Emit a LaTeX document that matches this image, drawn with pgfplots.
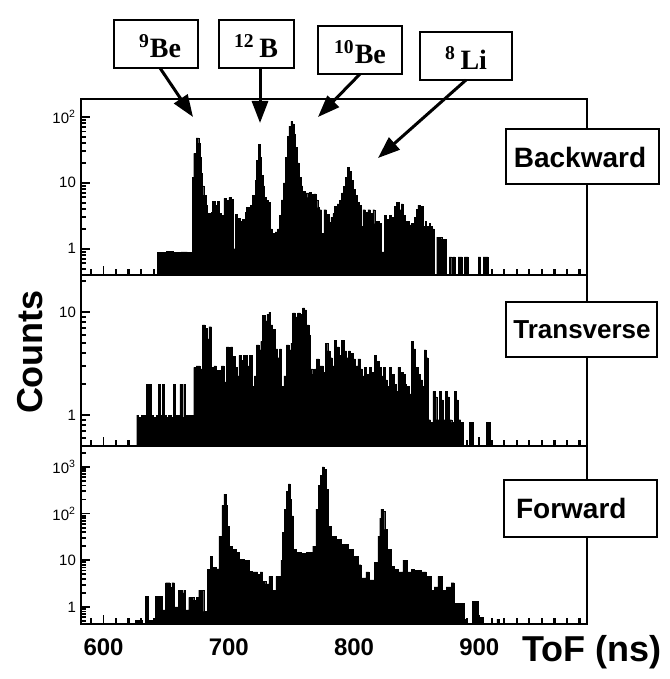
\documentclass[border=0pt]{standalone}
\usepackage{fontspec}
\setmainfont{Liberation Sans}
\newfontfamily\serifbf{Liberation Serif}
\usepackage{pgfplots}
\pgfplotsset{compat=1.18}
\usetikzlibrary{arrows.meta}

\newcommand{\minorticks}{%
  \pgfplotsinvokeforeach{590,610,620,630,640,650,660,670,680,690,710,720,730,740,750,760,770,780,790,810,820,830,840,850,860,870,880,890,910,920,930,940,950,960,970,980}{%
    \draw[line width=1.1pt] ({axis cs:##1,1} |- {rel axis cs:0,0}) -- ++(0pt,3.2pt);}%
}

\pgfplotsset{
  mypanel/.style={
    scale only axis, width=253pt, xmin=582, xmax=986,
    axis line style={line width=1pt},
    xtick={600,700,800,900},
    tick align=inside, xtick pos=bottom, ytick pos=left,
    major tick length=4.5pt, minor tick length=2.4pt,
    every tick/.style={black, line width=0.9pt},
    yticklabel style={font=\fontsize{7.5}{8}\selectfont, xshift=1pt},
    xticklabels={},
    anchor=north west,
    clip=false,
  },
}

\begin{document}
\begin{tikzpicture}
\useasboundingbox (0pt,0pt) rectangle (334.5pt,-339.5pt);

% ---------------- Backward ----------------
\begin{axis}[mypanel, ymode=log, log origin=infty, at={(40.5pt,-49.5pt)}, height=88pt, ymin=0.40, ymax=186,
  ytick={1,10,100}, yticklabels={1,10,10\textsuperscript{2}},
  minor ytick={0.5,0.6,0.7,0.8,0.9,2,3,4,5,6,7,8,9,20,30,40,50,60,70,80,90}]
\addplot[ybar interval, fill=black, draw=black, line width=0.2pt] coordinates {
(643,0.88)(650,0.92)(656,0.88)(662,0.9)(667,0.88)
(671,12)(672,28)(674,48)(676,40)(677,24)(678,14)(679,9)(680,6.5)(682,4.6)(683,3.4)
(686,3.6)(687,5.2)(689,4.6)(691,5.2)(692,3.4)(694,3.2)(696,5.8)(698,5.4)(700,6.0)(702,5.6)
(703.5,1.0)(705,3.3)(707,2.9)(709,2.6)(711,2.8)(713,3.6)(714,4.2)(716,3.4)(717,4.6)(719,6.5)
(721,11)(722,22)(723.5,38)(725,24)(726,13)(727.5,9)(728.5,6)(730,5.4)(731.5,5)(733,2.0)
(734.5,1.7)(737,1.8)(739,2.0)(740.5,3.2)(742,5.5)(743.5,10)(745,24)(746.5,50)(748,72)(749.5,85)
(751,78)(752,55)(753,34)(754.5,20)(756,12)(757.5,9)(759,7.4)(761,7)(763,6)(764,7.2)
(766,6.6)(768,6.8)(769.5,5.5)(771,4.2)(772.5,3.9)(774,1.7)(776,3.9)(778,3.3)(780,2.5)(781.5,3.0)
(783,3.4)(784.5,4.4)(786.5,4.8)(788.5,5.4)(790,7)(791.5,8.8)(793,12)(794.5,17)(796,15)(797.5,11)
(799,8)(801,6.5)(802.5,5)(804,4.6)(805.5,2.2)(807,3.9)(809,3.6)(811,3.9)(813,3.4)(815,3.9)
(816.5,2.4)(818,2.6)(820,2.4)(822,0.9)(824,3.2)(826,2.8)(828,3.2)(830,3.0)(832,4.4)(834,5.0)
(836,3.9)(837.5,4.8)(839,3.2)(840.5,2.4)(842,2.6)(844,2.3)(846,2.4)(848,3.0)(849.5,4.0)(851,4.6)
(852.5,3.8)(854,4.4)(855.5,2.2)(857,2.6)(858,2.2)(860,2.4)(861,2.2)(862.5,2.0)(864,0.41)(866,1.5)
(870,1.4)(873.5,0.41)(876,0.75)(878,0.41)(879,0.75)(880.5,0.41)(883,0.75)(884.5,0.75)(886,0.41)(888,0.75)
(891,0.41)(899,0.75)(901,0.41)(903,0.75)(907,0.41)(908,0.41)
};
\minorticks
\end{axis}

% ---------------- Transverse ----------------
\begin{axis}[mypanel, ymode=log, log origin=infty, at={(40.5pt,-137.5pt)}, height=85.5pt, ymin=0.5, ymax=22.9,
  ytick={1,10}, yticklabels={1,10},
  minor ytick={0.6,0.7,0.8,0.9,2,3,4,5,6,7,8,9,20}]
\addplot[ybar interval, fill=black, draw=black, line width=0.2pt] coordinates {
(626.5,1.0)(628,0.95)(630,1.0)(632,1.0)(634,2.0)(635.5,1.0)(636.5,2.0)(638,1.0)(640,0.95)(642,1.0)
(644,2.0)(645.5,1.0)(647,2.0)(648.5,1.0)(650,0.95)(652,1.0)(654,0.95)(656,2.0)(657.5,1.0)(659,1.0)
(661,2.0)(662.5,0.95)(664,2.0)(665.5,1.0)(667,1.0)(669,1.0)(672,2.9)(674,3.0)(677,2.8)(679,7.5)
(681,7.0)(683,5.5)(684,7.2)(686,2.9)(688,3.0)(690,2.7)(692,2.0)(693,2.7)(694,3.0)(696,2.1)
(698,4.6)(700,4.2)(701.5,4.6)(703,3.7)(705,2.9)(706.5,2.4)(708,3.8)(710,3.4)(711.5,3.8)(713,3.8)
(715,3.0)(716.5,3.8)(719,1.9)(720.5,2.4)(722,4.8)(724,4.3)(725.5,5.2)(727,9.3)(729,8.2)(730.5,9.5)
(732,10)(733,7.5)(735,6.8)(737,4.4)(739,3.6)(740.5,4.4)(742,1.9)(744,2.4)(746,4.8)(748,4.3)
(749.5,5.0)(751,9.8)(753,9.0)(755,9.8)(757,9.5)(759,11)(760.5,10.5)(762,7.5)(764,6.0)(765,2.8)
(767,2.5)(768.5,2.8)(770,3.5)(772,3.0)(774,3.0)(775.5,2.6)(777,5.0)(779,4.2)(781,3.6)(782.5,3.0)
(784,5.3)(786,4.6)(788,3.8)(789,3.2)(790,5.3)(792,4.2)(794,3.6)(795.5,4.2)(797,4.0)(799,3.5)
(801,3.0)(803,3.5)(805,2.8)(806.5,2.4)(808,2.9)(810,2.5)(812,2.9)(814,2.6)(816,3.8)(818,3.3)
(820,2.9)(822,2.4)(823.5,2.9)(825,2.2)(826.5,1.9)(828,2.9)(830,2.5)(832,2.0)(833.5,1.7)(835,2.9)
(837,2.6)(839,2.5)(841,2.0)(842,1.9)(844,1.6)(846,5.2)(847.5,4.4)(849,2.9)(851,2.5)(853,2.2)
(854.5,1.9)(856,4.3)(857.5,3.6)(859,0.9)(861,0.85)(863,1.7)(864.5,1.5)(866,0.9)(868,1.7)(869.5,1.4)
(871,0.9)(873,1.7)(874.5,1.5)(876,0.9)(878,0.85)(880,1.7)(881.5,1.4)(883,0.9)(885,0.85)(887,0.5)
(892,0.85)(895,0.5)(905.5,0.85)(908.5,0.5)(909,0.5)
};
\minorticks
\end{axis}

% ---------------- Forward ----------------
\begin{axis}[mypanel, ymode=log, log origin=infty, at={(40.5pt,-223pt)}, height=89pt, ymin=0.43, ymax=2800,
  ytick={1,10,100,1000}, yticklabels={1,10,10\textsuperscript{2},10\textsuperscript{3}},
  minor ytick={0.5,0.6,0.7,0.8,0.9,2,3,4,5,6,7,8,9,20,30,40,50,60,70,80,90,200,300,400,500,600,700,800,900,2000},
  xticklabels={600,700,800,900},
  xticklabel style={font=\fontsize{12}{12}\selectfont\bfseries, yshift=-4pt}]
\addplot[ybar interval, fill=black, draw=black, line width=0.2pt] coordinates {
(625.5,0.52)(631,0.43)(633.5,1.7)(636,0.52)(641.5,1.7)(647,0.86)(649.5,3.3)(653,2.6)(654.5,3.3)(656.5,1.0)
(660,2.3)(663,2.0)(664,2.3)(665.5,0.86)(668,1.6)(672,1.4)(674,1.6)(676,2.3)(680,0.8)(683,6.3)
(685.5,12)(687,7)(690,6.5)(692,33)(694.5,150)(696,262)(698,150)(699,54)(700.5,20)(703,17)
(706,15)(708.5,10.4)(712.5,10)(716.5,5.8)(719,5.6)(723,5.0)(725,5.6)(727,3.5)(729.5,3.1)(732,4.5)
(735,2.3)(737.5,4.5)(741.5,10)(743,40)(744.5,125)(746,300)(747.5,430)(749,200)(750,89)(751.5,17)
(753.5,14.7)(758,14)(762,15)(765,14.7)(767,20)(769.5,125)(771.5,400)(773,650)(774.5,1000)(776,900)
(777.5,335)(779.5,54)(781.5,33)(785.5,28)(789.5,22)(795,17)(799,12)(803,8)(805.5,4.2)(809.5,5.6)
(812,3.8)(816,8.9)(819,33)(820.5,80)(821.5,125)(823,110)(824.5,46)(826.5,17)(829.5,7.4)(832,6.3)
(835,5.6)(839,10)(842.5,5.6)(845.5,6.3)(848,6.0)(853.5,5.6)(857.5,4.5)(861.5,2.3)(864,2.7)(867,4.5)
(870.5,2.3)(873.5,2.7)(877.5,3.3)(880,1.2)(888,0.55)(890,0.43)(894.5,1.3)(899.5,0.6)(903,0.43)(914,0.55)
(916,0.43)(917,0.43)
};
\minorticks
\end{axis}

% ---------------- annotations ----------------
\begin{scope}[line width=1.4pt]
\draw[fill=white] (253pt,-64.5pt) rectangle (329.5pt,-92pt);
\node[font=\fontsize{14}{14}\selectfont\bfseries] at (290pt,-78.5pt) {Backward};
\draw[fill=white] (253pt,-151pt) rectangle (328.5pt,-178.5pt);
\node[font=\fontsize{13}{13}\selectfont\bfseries] at (291pt,-165pt) {Transverse};
\draw[fill=white] (252pt,-240pt) rectangle (328.5pt,-268.5pt);
\node[font=\fontsize{14}{14}\selectfont\bfseries, anchor=west] at (254pt,-254pt) {Forward};

\draw (57pt,-10pt) rectangle (99pt,-34pt);
\draw (109.5pt,-10pt) rectangle (147pt,-34pt);
\draw (159pt,-13pt) rectangle (201pt,-37pt);
\draw (210pt,-16pt) rectangle (256pt,-40pt);
\end{scope}
\begin{scope}[font=\serifbf\bfseries\fontsize{14}{14}\selectfont]
\node at (80pt,-23pt) {\textsuperscript{9}Be};
\node at (128pt,-23pt) {\textsuperscript{12}\,B};
\node at (180pt,-26pt) {\textsuperscript{10}Be};
\node at (233pt,-29pt) {\textsuperscript{8}\,Li};
\end{scope}
\begin{scope}[line width=1.5pt, -{Triangle[length=11pt,width=8pt]}]
\draw (80pt,-34pt) -- (96.5pt,-58.5pt);
\draw (130pt,-34pt) -- (130pt,-61.5pt);
\draw (180pt,-37pt) -- (159pt,-58.5pt);
\draw (233pt,-40pt) -- (189pt,-79pt);
\end{scope}

\node[rotate=90, font=\fontsize{18}{18}\selectfont\bfseries] at (15pt,-176pt) {Counts};
\node[font=\fontsize{18}{18}\selectfont\bfseries] at (296pt,-326pt) {ToF (ns)};
\end{tikzpicture}
\end{document}
